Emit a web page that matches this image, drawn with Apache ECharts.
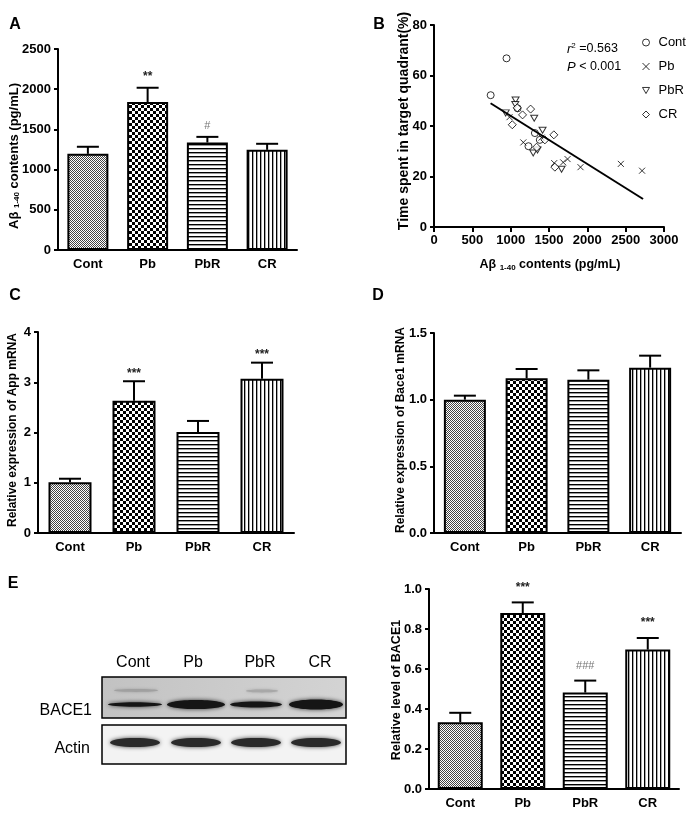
<!DOCTYPE html>
<html>
	<head>
		<meta charset="utf-8">
		<title>Aβ, App, Bace1 and BACE1 panels</title>
		<script src="https://cdn.jsdelivr.net/npm/echarts@6/dist/echarts.min.js"></script>
		<style>
			html, body { margin: 0; background: #fff; }
			#main { width: 686px; height: 813px; }
		</style>
	</head>
	<body>
		<div id="main"></div>
		<script type="text/javascript">
			// groups used in every panel
			var categories = ['Cont', 'Pb', 'PbR', 'CR'];

			// A: Abeta 1-40 contents (pg/mL)
			var abMean = [1196, 1840, 1337, 1246];
			var abErr = [88, 178, 70, 75];
			var abMark = ['', '**', '#', ''];

			// B: time in target quadrant vs Abeta contents
			var contPts = [[946, 66.8], [739, 52.2], [1090, 47.0], [1316, 37.2], [1232, 32.0], [1380, 34.5]];
			var pbPts = [[985, 43.5], [1165, 33.5], [1403, 35.4], [1568, 25.3], [1685, 25.6], [1742, 26.9], [1911, 23.7], [2437, 25.0], [2714, 22.3]];
			var pbrPts = [[935, 45.2], [1064, 50.3], [1307, 43.1], [1416, 38.3], [1294, 29.3], [1350, 30.5], [1664, 22.9], [1060, 48.5]];
			var crPts = [[1021, 40.5], [1155, 44.4], [1260, 46.7], [1085, 47.2], [1338, 31.6], [1446, 34.5], [1563, 36.5], [1577, 23.7]];
			var fitX = [738, 2727];
			var fitY = [49.0, 11.1];

			// C: App mRNA
			var appMean = [1.01, 2.63, 2.01, 3.07];
			var appErr = [0.07, 0.39, 0.22, 0.32];
			var appMark = ['', '***', '', '***'];

			// D: Bace1 mRNA
			var baceMean = [1.00, 1.16, 1.15, 1.24];
			var baceErr = [0.03, 0.07, 0.07, 0.09];
			var baceMark = ['', '', '', ''];

			// E: BACE1 protein level
			var levelMean = [0.334, 0.88, 0.482, 0.697];
			var levelErr = [0.047, 0.053, 0.06, 0.058];
			var levelMark = ['', '***', '###', '***'];

			var SANS = '"Liberation Sans",Arial,sans-serif';

			// bar fills like the GraphPad hatch patterns
			function pattern(kind) {
				var c = document.createElement('canvas');
				var g, x, y;
				if (kind == 'fine') {
					c.width = c.height = 4;
					g = c.getContext('2d');
					g.fillStyle = '#fff'; g.fillRect(0, 0, 4, 4);
					g.fillStyle = '#444';
					for (x = 0; x < 4; x++) for (y = 0; y < 4; y++) if ((x + y) % 2 == 0) g.fillRect(x, y, 1, 1);
				} else if (kind == 'check') {
					c.width = c.height = 6;
					g = c.getContext('2d');
					g.fillStyle = '#fff'; g.fillRect(0, 0, 6, 6);
					g.fillStyle = '#000';
					g.fillRect(0, 0, 3, 3); g.fillRect(3, 3, 3, 3);
				} else if (kind == 'hline') {
					c.width = c.height = 4;
					g = c.getContext('2d');
					g.fillStyle = '#fff'; g.fillRect(0, 0, 4, 4);
					g.fillStyle = '#000'; g.fillRect(0, 0, 4, 1);
					g.fillStyle = '#999'; g.fillRect(0, 1, 4, 1);
				} else {
					c.width = c.height = 4;
					g = c.getContext('2d');
					g.fillStyle = '#fff'; g.fillRect(0, 0, 4, 4);
					g.fillStyle = '#000'; g.fillRect(0, 0, 1, 4);
					g.fillStyle = '#aaa'; g.fillRect(1, 0, 1, 4);
				}
				return { image: c, repeat: 'repeat' };
			}
			var fills = [pattern('fine'), pattern('check'), pattern('hline'), pattern('vline')];

			function catAxis(gi) {
				return {
					type: 'category', gridIndex: gi, data: categories,
					axisLine: { lineStyle: { color: '#000', width: 2 } },
					axisTick: { alignWithLabel: true, length: 4, lineStyle: { color: '#000', width: 2 } },
					axisLabel: { color: '#000', fontFamily: SANS, fontWeight: 'bold', fontSize: 13, margin: 8 }
				};
			}

			function valAxis(gi, max, step, dec) {
				return {
					type: 'value', gridIndex: gi, min: 0, max: max, interval: step,
					splitLine: { show: false },
					axisLine: { show: true, lineStyle: { color: '#000', width: 2 } },
					axisTick: { show: true, length: 4, lineStyle: { color: '#000', width: 2 } },
					axisLabel: {
						color: '#000', fontFamily: SANS, fontWeight: 'bold', fontSize: 13, margin: 7,
						formatter: function (v) { return v.toFixed(dec); }
					}
				};
			}

			function barSeries(gi, means, w) {
				return {
					type: 'bar', xAxisIndex: gi, yAxisIndex: gi, barWidth: w, silent: true,
					itemStyle: { borderColor: '#000', borderWidth: 2 },
					data: means.map(function (v, i) { return { value: v, itemStyle: { color: fills[i] } }; })
				};
			}

			// upper error bar with cap, and the significance mark above it
			function errSeries(gi, means, errs, marks, off) {
				return {
					type: 'custom', xAxisIndex: gi, yAxisIndex: gi, silent: true, z: 5,
					data: means.map(function (v, i) { return [i, v, errs[i]]; }),
					renderItem: function (params, api) {
						var i = api.value(0), v = api.value(1), e = api.value(2);
						var p0 = api.coord([i, v]);
						var p1 = api.coord([i, v + e]);
						var kids = [
							{ type: 'line', shape: { x1: p0[0], y1: p0[1], x2: p1[0], y2: p1[1] }, style: { stroke: '#000', lineWidth: 2 } },
							{ type: 'line', shape: { x1: p1[0] - 11, y1: p1[1], x2: p1[0] + 11, y2: p1[1] }, style: { stroke: '#000', lineWidth: 2 } }
						];
						var m = marks[params.dataIndex];
						if (m) {
							var hash = m.indexOf('#') >= 0;
							kids.push({
								type: 'text', x: p1[0], y: p1[1] - off,
								style: {
									text: m, align: 'center', verticalAlign: 'middle',
									fill: hash ? '#777' : '#222',
									font: (hash ? 'normal 11px ' : 'bold 12px ') + SANS
								}
							});
						}
						return { type: 'group', children: kids };
					}
				};
			}

			function txt(x, y, text, font, extra) {
				var o = { type: 'text', x: x, y: y, style: { text: text, font: font, fill: '#000', align: 'center', verticalAlign: 'middle' } };
				if (extra) {
					for (var k in extra) {
						if (k == 'style') { for (var s in extra.style) o.style[s] = extra.style[s]; }
						else o[k] = extra[k];
					}
				}
				return o;
			}

			function subRich(size) {
				return {
					b: { fontFamily: SANS, fontWeight: 'bold', fontSize: size },
					s: { fontFamily: SANS, fontWeight: 'bold', fontSize: 8, verticalAlign: 'bottom', padding: [5, 0, 0, 0] }
				};
			}

			// western blot picture in panel E
			var laneX = [135, 196, 256, 316];
			var bandRy = [2.2, 4.6, 3.0, 5.0];
			var bandRx = [27, 29, 26, 27];
			var blot = [
				{ type: 'rect', shape: { x: 102, y: 677, width: 244, height: 41 },
					style: { fill: new echarts.graphic.LinearGradient(0, 0, 1, 1, [{ offset: 0, color: '#c2c2c2' }, { offset: 1, color: '#d4d4d4' }]), stroke: '#000', lineWidth: 1.5 } },
				{ type: 'rect', shape: { x: 102, y: 725, width: 244, height: 39 },
					style: { fill: '#f3f3f3', stroke: '#000', lineWidth: 1.5 } },
				{ type: 'ellipse', shape: { cx: 136, cy: 690.5, rx: 22, ry: 1.4 }, style: { fill: '#a0a0a0', shadowBlur: 3, shadowColor: '#a0a0a0' } },
				{ type: 'ellipse', shape: { cx: 262, cy: 691, rx: 16, ry: 1.4 }, style: { fill: '#a8a8a8', shadowBlur: 3, shadowColor: '#a8a8a8' } }
			];
			laneX.forEach(function (cx, i) {
				blot.push({ type: 'ellipse', shape: { cx: cx, cy: 704.5, rx: bandRx[i], ry: bandRy[i] },
					style: { fill: '#151515', shadowBlur: 4, shadowColor: '#333' } });
				blot.push({ type: 'ellipse', shape: { cx: cx, cy: 742.5, rx: 25, ry: 4.6 },
					style: { fill: '#2a2a2a', shadowBlur: 4, shadowColor: '#444' } });
				blot.push(txt(cx + [-2, -3, 4, 4][i], 663, categories[i], 'normal 16px ' + SANS));
			});
			blot.push(txt(92, 711, 'BACE1', 'normal 16px ' + SANS, { style: { align: 'right' } }));
			blot.push(txt(90, 749, 'Actin', 'normal 16px ' + SANS, { style: { align: 'right' } }));

			var graphics = [
				txt(15, 25, 'A', 'bold 16px ' + SANS),
				txt(379, 25, 'B', 'bold 16px ' + SANS),
				txt(15, 296, 'C', 'bold 16px ' + SANS),
				txt(378, 296, 'D', 'bold 16px ' + SANS),
				txt(13, 584, 'E', 'bold 16px ' + SANS),
				txt(14, 156, '{b|Aβ }{s|1-40}{b| contents (pg/mL)}', 'bold 13px ' + SANS, { rotation: Math.PI / 2, style: { rich: subRich(13) } }),
				txt(404, 121, 'Time spent in target quadrant(%)', 'bold 14px ' + SANS, { rotation: Math.PI / 2 }),
				txt(550, 265, '{b|Aβ }{s|1-40}{b| contents (pg/mL)}', 'bold 12.5px ' + SANS, { style: { rich: subRich(12.5) } }),
				txt(567, 49, '{i|r}{sup|2}{n| =0.563}', 'normal 12.5px ' + SANS, { style: { align: 'left', rich: {
					i: { fontFamily: SANS, fontStyle: 'italic', fontSize: 13 },
					sup: { fontFamily: SANS, fontSize: 8, verticalAlign: 'top', padding: [0, 0, 6, 0] },
					n: { fontFamily: SANS, fontSize: 12.5 } } } }),
				txt(567, 67, '{i|P}{n| < 0.001}', 'normal 12.5px ' + SANS, { style: { align: 'left', rich: {
					i: { fontFamily: SANS, fontStyle: 'italic', fontSize: 13 },
					n: { fontFamily: SANS, fontSize: 12.5 } } } }),
				txt(13, 430, 'Relative expression of App mRNA', 'bold 12px ' + SANS, { rotation: Math.PI / 2 }),
				txt(401, 430, 'Relative expression of Bace1 mRNA', 'bold 12px ' + SANS, { rotation: Math.PI / 2 }),
				txt(397, 690, 'Relative level of BACE1', 'bold 12.5px ' + SANS, { rotation: Math.PI / 2 })
			].concat(blot);

			var scatterStyle = { color: '#fff', borderColor: '#000', borderWidth: 1 };

			var option = {
				backgroundColor: '#fff',
				animation: false,
				grid: [
					{ left: 58, top: 49, width: 239, height: 201, outerBoundsMode: 'none' },
					{ left: 434, top: 25, width: 230, height: 202, outerBoundsMode: 'none' },
					{ left: 38, top: 332, width: 256, height: 201, outerBoundsMode: 'none' },
					{ left: 434, top: 333, width: 247, height: 200, outerBoundsMode: 'none' },
					{ left: 429, top: 589, width: 250, height: 200, outerBoundsMode: 'none' }
				],
				xAxis: [
					catAxis(0),
					{
						type: 'value', gridIndex: 1, min: 0, max: 3000, interval: 500,
						splitLine: { show: false },
						axisLine: { lineStyle: { color: '#000', width: 2 } },
						axisTick: { length: 5, lineStyle: { color: '#000', width: 2 } },
						axisLabel: { color: '#000', fontFamily: SANS, fontWeight: 'bold', fontSize: 13, margin: 7,
							formatter: function (v) { return String(v); } }
					},
					catAxis(2), catAxis(3), catAxis(4)
				],
				yAxis: [
					valAxis(0, 2500, 500, 0),
					valAxis(1, 80, 20, 0),
					valAxis(2, 4, 1, 0),
					valAxis(3, 1.5, 0.5, 1),
					valAxis(4, 1.0, 0.2, 1)
				],
				legend: {
					orient: 'vertical', left: 637, top: 31, itemWidth: 7, itemHeight: 7, itemGap: 11,
					data: ['Cont', 'Pb', 'PbR', 'CR'],
					itemStyle: { borderWidth: 1 },
					textStyle: { fontFamily: SANS, fontSize: 13, color: '#000', padding: [0, 0, 0, 4] }
				},
				graphic: graphics,
				series: [
					barSeries(0, abMean, 41),
					errSeries(0, abMean, abErr, abMark, 11),
					{ name: 'Cont', type: 'scatter', xAxisIndex: 1, yAxisIndex: 1, symbol: 'circle', symbolSize: 7, itemStyle: scatterStyle, data: contPts },
					{ name: 'Pb', type: 'scatter', xAxisIndex: 1, yAxisIndex: 1, symbol: 'path://M0,0L10,10M10,0L0,10', symbolSize: 6, itemStyle: scatterStyle, data: pbPts },
					{ name: 'PbR', type: 'scatter', xAxisIndex: 1, yAxisIndex: 1, symbol: 'path://M0,0L10,0L5,8.7Z', symbolSize: [7, 6], itemStyle: scatterStyle, data: pbrPts },
					{ name: 'CR', type: 'scatter', xAxisIndex: 1, yAxisIndex: 1, symbol: 'diamond', symbolSize: 8, itemStyle: scatterStyle, data: crPts },
					{ type: 'line', xAxisIndex: 1, yAxisIndex: 1, symbol: 'none', silent: true, lineStyle: { color: '#000', width: 2 },
						data: fitX.map(function (x, i) { return [x, fitY[i]]; }) },
					barSeries(2, appMean, 43),
					errSeries(2, appMean, appErr, appMark, 8),
					barSeries(3, baceMean, 42),
					errSeries(3, baceMean, baceErr, baceMark, 8),
					barSeries(4, levelMean, 45),
					errSeries(4, levelMean, levelErr, levelMark, 15)
				]
			};

			var myChart = echarts.init(document.getElementById('main'));
			myChart.setOption(option);
		</script>
	</body>
</html>
